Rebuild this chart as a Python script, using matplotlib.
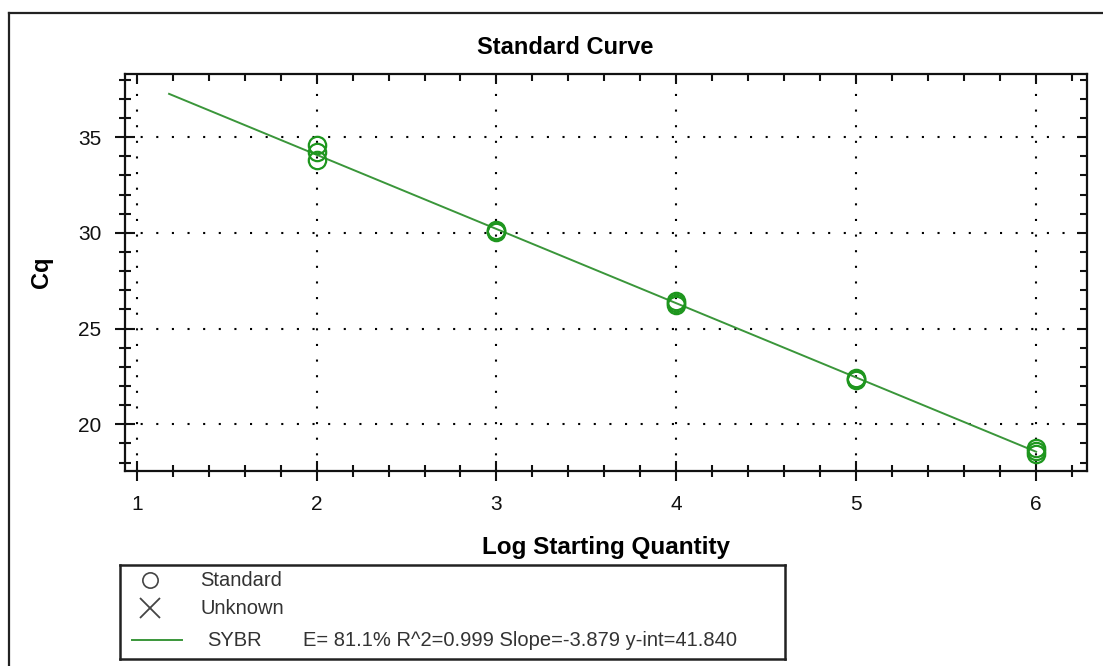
import matplotlib
matplotlib.use("Agg")
import matplotlib.pyplot as plt
import numpy as np
from matplotlib.lines import Line2D
from matplotlib.ticker import MultipleLocator

plt.rcParams['font.family'] = ['Liberation Sans', 'DejaVu Sans']

# ---- data ----
log_qty = [2, 2, 2, 3, 3, 3, 4, 4, 4, 5, 5, 5, 6, 6, 6]
cq = [34.6, 34.2, 33.8, 30.15, 30.05, 30.1, 26.45, 26.25, 26.35,
      22.4, 22.3, 22.35, 18.75, 18.45, 18.6]
slope = -3.879
y_int = 41.840
fit_range = [1.18, 6.0]
x_ticks = [1, 2, 3, 4, 5, 6]
y_ticks = [20, 25, 30, 35]
legend_eq = "E= 81.1% R^2=0.999 Slope=-3.879 y-int=41.840"

W, H = 1103, 666
fig = plt.figure(figsize=(W / 100, H / 100), dpi=100)

def fx(px):
    return px / W

def fy(py):
    return 1 - py / H

# outer frame
fig.add_artist(Line2D([fx(9), fx(9)], [fy(13), 0], color='#222222', lw=1.6))
fig.add_artist(Line2D([fx(9), 1], [fy(13), fy(13)], color='#222222', lw=1.6))

ax_l, ax_r, ax_t, ax_b = 125, 1087, 74, 471
ax = fig.add_axes([fx(ax_l), fy(ax_b), (ax_r - ax_l) / W, (ax_b - ax_t) / H])

green_pt = '#1e961e'
green_line = '#3a963a'

fx_line = np.array(fit_range)
ax.plot(fx_line, y_int + slope * fx_line, color=green_line, lw=1.4, zorder=3)
ax.plot(log_qty, cq, linestyle='none', marker='o', markersize=12.5,
        markerfacecolor='none', markeredgecolor=green_pt, markeredgewidth=1.6, zorder=4)

ax.set_xlim(0.935, 6.283)
ax.set_ylim(17.56, 38.3)
ax.set_xticks(x_ticks)
ax.set_yticks(y_ticks)
ax.xaxis.set_minor_locator(MultipleLocator(0.2))
ax.yaxis.set_minor_locator(MultipleLocator(1))

ax.grid(True, which='major', color='black', linestyle=(0, (1, 6.5)), linewidth=1.5)

for s in ax.spines.values():
    s.set_linewidth(1.6)
    s.set_color('#111111')

ax.tick_params(which='major', direction='inout', length=14, width=1.5,
               labelsize=15, pad=10, colors='#111111')
ax.tick_params(which='minor', direction='inout', length=9, width=1.5, colors='#111111')
ax.tick_params(which='both', top=True, right=True)
ax.tick_params(axis='y', which='major', pad=10)
# top/right ticks inward only
for t in ax.xaxis.get_major_ticks() + ax.xaxis.get_minor_ticks():
    t.tick2line.set_marker(3)  # TICKDOWN
for t in ax.yaxis.get_major_ticks() + ax.yaxis.get_minor_ticks():
    t.tick2line.set_marker(0)  # TICKLEFT
for t in ax.xaxis.get_major_ticks():
    t.tick2line.set_markersize(7)
for t in ax.xaxis.get_minor_ticks():
    t.tick2line.set_markersize(5)
for t in ax.yaxis.get_major_ticks():
    t.tick2line.set_markersize(7)
for t in ax.yaxis.get_minor_ticks():
    t.tick2line.set_markersize(5)

ax.set_xlabel('Log Starting Quantity', fontsize=17.5, fontweight='bold', labelpad=16)
ax.set_ylabel('Cq', fontsize=17, fontweight='bold', labelpad=18)

fig.text(fx(565), fy(47), 'Standard Curve', fontsize=17, fontweight='bold',
         ha='center', va='center')

# legend panel
lx0, ly0, lx1, ly1 = 120, 565, 785, 659
lax = fig.add_axes([fx(lx0), fy(ly1), (lx1 - lx0) / W, (ly1 - ly0) / H])
lax.set_xlim(0, lx1 - lx0)
lax.set_ylim(ly1 - ly0, 0)
lax.set_xticks([])
lax.set_yticks([])
for s in lax.spines.values():
    s.set_linewidth(1.8)
    s.set_color('#222222')

lax.plot([30], [15], marker='o', markersize=11, markerfacecolor='none',
         markeredgecolor='#444444', markeredgewidth=1.2)
lax.plot([30], [43], marker='x', markersize=14, markeredgecolor='#444444',
         markeredgewidth=1.3)
lax.plot([12, 62], [75, 75], color=green_line, lw=1.4)
fs = 14.5
lax.text(80, 16, 'Standard', fontsize=fs, va='center', ha='left', color='#333333')
lax.text(80, 44, 'Unknown', fontsize=fs, va='center', ha='left', color='#333333')
lax.text(87, 75, 'SYBR', fontsize=fs, va='center', ha='left', color='#333333')
lax.text(183, 75, legend_eq, fontsize=fs, va='center', ha='left', color='#333333')

fig.savefig('out.png', dpi=100)
